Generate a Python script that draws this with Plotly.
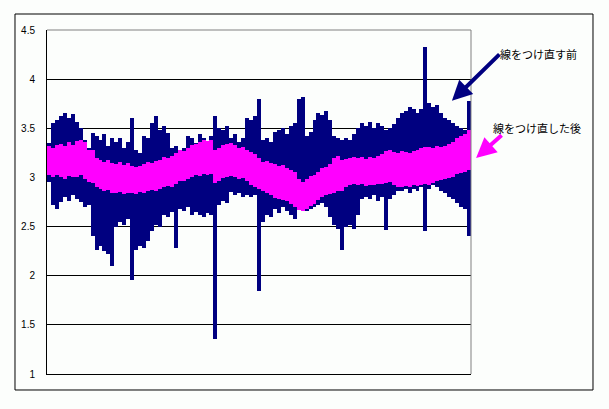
import plotly.graph_objects as go

# Envelope readings (every ~4 px across the plot) for the two series
before_high = [3.35,3.55,3.58,3.62,3.66,3.60,3.65,3.56,3.50,3.38,3.30,3.45,3.42,3.38,3.44,3.32,3.40,3.36,3.40,3.30,
               3.36,3.60,3.28,3.25,3.42,3.40,3.55,3.62,3.48,3.52,3.45,3.30,3.32,3.28,3.30,3.42,3.40,3.35,3.44,3.40,
               3.34,3.42,3.62,3.50,3.48,3.52,3.40,3.44,3.36,3.40,3.60,3.58,3.62,3.80,3.38,3.40,3.36,3.46,3.48,3.50,
               3.44,3.52,3.55,3.80,3.82,3.42,3.46,3.58,3.66,3.64,3.68,3.58,3.42,3.40,3.38,3.40,3.38,3.44,3.50,3.55,
               3.52,3.56,3.50,3.55,3.52,3.48,3.50,3.54,3.60,3.66,3.68,3.72,3.70,3.66,3.70,4.33,3.76,3.72,3.74,3.66,
               3.60,3.58,3.55,3.52,3.50,3.48,3.78]
before_low = [2.95,2.72,2.68,2.75,2.80,2.76,2.82,2.78,2.75,2.70,2.72,2.40,2.26,2.30,2.25,2.22,2.10,2.50,2.55,2.52,
              2.58,1.96,2.26,2.30,2.28,2.35,2.45,2.52,2.50,2.62,2.60,2.65,2.28,2.68,2.66,2.70,2.62,2.65,2.62,2.60,
              2.64,2.62,1.36,2.72,2.76,2.74,2.85,2.82,2.84,2.80,2.82,2.80,2.82,1.84,2.55,2.62,2.60,2.68,2.64,2.70,
              2.66,2.62,2.58,2.72,2.76,2.66,2.68,2.70,2.72,2.74,2.70,2.60,2.52,2.48,2.26,2.50,2.52,2.48,2.62,2.78,
              2.80,2.78,2.82,2.76,2.80,2.47,2.78,2.82,2.86,2.86,2.88,2.84,2.88,2.86,2.90,2.45,2.88,2.92,2.90,2.86,
              2.84,2.80,2.78,2.74,2.70,2.68,2.40]
after_high = [3.32,3.30,3.33,3.34,3.32,3.36,3.33,3.37,3.38,3.36,3.28,3.28,3.20,3.18,3.16,3.18,3.15,3.14,3.16,3.13,
              3.15,3.12,3.11,3.12,3.14,3.16,3.15,3.17,3.18,3.21,3.20,3.22,3.25,3.28,3.27,3.30,3.33,3.34,3.36,3.38,
              3.37,3.38,3.28,3.30,3.33,3.34,3.35,3.33,3.30,3.31,3.28,3.26,3.24,3.20,3.16,3.17,3.15,3.14,3.12,3.13,
              3.10,3.08,3.06,2.98,2.95,2.98,3.01,3.02,3.06,3.10,3.11,3.14,3.20,3.22,3.18,3.19,3.20,3.21,3.20,3.21,
              3.19,3.21,3.20,3.22,3.24,3.27,3.28,3.26,3.25,3.27,3.26,3.25,3.27,3.28,3.30,3.31,3.31,3.30,3.32,3.31,
              3.32,3.34,3.36,3.40,3.42,3.44,3.48]
after_low = [3.02,3.00,3.02,3.00,2.98,3.01,3.00,3.00,3.02,2.98,2.95,2.94,2.90,2.88,2.86,2.87,2.84,2.84,2.85,2.83,
             2.84,2.84,2.83,2.85,2.84,2.86,2.87,2.86,2.88,2.90,2.91,2.90,2.93,2.96,2.96,2.98,3.00,3.02,3.01,3.03,
             3.02,3.03,2.94,2.96,2.99,3.00,3.01,3.00,2.98,2.99,2.96,2.92,2.90,2.88,2.86,2.84,2.82,2.79,2.78,2.77,
             2.76,2.73,2.70,2.67,2.66,2.68,2.71,2.73,2.77,2.80,2.82,2.83,2.84,2.86,2.86,2.90,2.92,2.93,2.92,2.93,
             2.91,2.92,2.92,2.93,2.93,2.94,2.95,2.92,2.90,2.90,2.91,2.90,2.92,2.91,2.92,2.93,2.92,2.94,2.96,2.97,
             2.98,2.99,3.00,3.03,3.05,3.06,3.08]

y_ticks = [1, 1.5, 2, 2.5, 3, 3.5, 4, 4.5]
label_before = "線をつけ直す前"
label_after = "線をつけ直した後"

xs = list(range(len(before_high)))

fig = go.Figure()
# each reading is drawn as the vertical span the dense trace covers at that position
fig.add_trace(go.Bar(x=xs, base=before_low, y=[h - l for h, l in zip(before_high, before_low)],
                     width=1, marker=dict(color="#000080", line=dict(width=0)),
                     name=label_before, hoverinfo="skip"))
fig.add_trace(go.Bar(x=xs, base=after_low, y=[h - l for h, l in zip(after_high, after_low)],
                     width=1, marker=dict(color="#FF00FF", line=dict(width=0)),
                     name=label_after, hoverinfo="skip"))

BG = "#fcfefc"
fig.update_layout(
    width=609, height=409,
    margin=dict(l=47, r=138, t=30, b=35),
    paper_bgcolor=BG, plot_bgcolor=BG,
    showlegend=False, barmode="overlay", bargap=0,
    font=dict(family="Liberation Sans, Arial, sans-serif", size=10, color="black"),
    xaxis=dict(range=[-0.5, len(xs) - 0.5], showgrid=False, zeroline=False, showticklabels=False,
               showline=True, linecolor="black", linewidth=1, ticks=""),
    yaxis=dict(range=[1, 4.5], tickvals=y_ticks, ticktext=[f"{v:g}" for v in y_ticks],
               showgrid=True, gridcolor="black", gridwidth=1, zeroline=False,
               showline=True, linecolor="black", linewidth=1, ticks="",
               ticklabelstandoff=9, tickfont=dict(size=10)),
)

# plot-area top and right borders (grey), outer chart border (black)
fig.add_shape(type="line", xref="paper", yref="paper", x0=0, x1=1, y0=1, y1=1,
              line=dict(color="#808080", width=1))
fig.add_shape(type="line", xref="paper", yref="paper", x0=1, x1=1, y0=0, y1=1,
              line=dict(color="#808080", width=1))
fig.add_shape(type="rect", xref="paper", yref="paper", x0=-0.0755, x1=1.2877, y0=-0.0465, y1=1.0465,
              line=dict(color="black", width=1), fillcolor="rgba(0,0,0,0)")

cjk = "Noto Sans CJK JP"
fig.add_annotation(xref="paper", yref="paper", x=1.0637, y=0.930, text=label_before, showarrow=False,
                   xanchor="left", yanchor="middle", font=dict(family=cjk, size=11, color="black"))
fig.add_annotation(xref="paper", yref="paper", x=1.047, y=0.715, text=label_after, showarrow=False,
                   xanchor="left", yanchor="middle", font=dict(family=cjk, size=11, color="black"))
fig.add_annotation(xref="paper", yref="paper", x=0.955, y=0.794, text=" ", showarrow=True,
                   ax=49, ay=-48, arrowhead=2, arrowsize=1, arrowwidth=4, arrowcolor="#000080",
                   font=dict(size=1))
fig.add_annotation(xref="paper", yref="paper", x=1.012, y=0.628, text=" ", showarrow=True,
                   ax=27, ay=-24, arrowhead=2, arrowsize=1, arrowwidth=4, arrowcolor="#FF00FF",
                   font=dict(size=1))

fig.write_html("out.html", config={"displayModeBar": False},
               post_script="document.body.style.margin='0';")
